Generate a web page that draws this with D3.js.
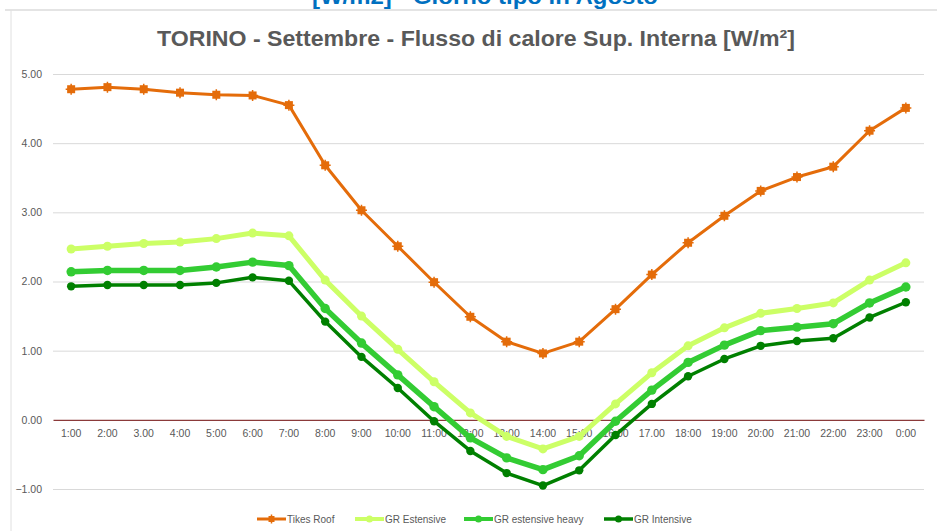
<!DOCTYPE html>
<html>
<head>
<meta charset="utf-8">
<script src="https://cdn.jsdelivr.net/npm/d3@7"></script>
<style>
  html, body { margin: 0; padding: 0; background: #ffffff; }
  svg { display: block; }
</style>
</head>
<body>
<svg id="chart" width="937" height="531"></svg>
<script>
// ---- data ----
const categories = ["1:00","2:00","3.00","4:00","5:00","6:00","7:00","8:00","9:00","10:00","11:00","12:00",
  "13:00","14:00","15:00","16:00","17.00","18:00","19:00","20:00","21:00","22:00","23:00","0:00"];
const tikesRoof = [4.78,4.81,4.78,4.73,4.70,4.69,4.55,3.68,3.03,2.51,1.99,1.49,
  1.13,0.96,1.13,1.60,2.10,2.56,2.95,3.31,3.51,3.66,4.18,4.51];
const grEstensive = [2.47,2.51,2.55,2.57,2.62,2.70,2.66,2.02,1.50,1.02,0.55,0.10,
  -0.24,-0.42,-0.24,0.23,0.68,1.07,1.33,1.54,1.61,1.69,2.02,2.27];
const grEstensiveHeavy = [2.14,2.16,2.16,2.16,2.21,2.28,2.23,1.61,1.11,0.65,0.19,-0.26,
  -0.55,-0.72,-0.52,-0.02,0.43,0.83,1.08,1.29,1.34,1.39,1.69,1.92];
const grIntensive = [1.93,1.95,1.95,1.95,1.98,2.06,2.01,1.42,0.91,0.46,-0.02,-0.45,
  -0.77,-0.95,-0.73,-0.22,0.23,0.63,0.88,1.07,1.14,1.18,1.48,1.70];
const yTicks = [-1,0,1,2,3,4,5];
const seriesNames = ["Tikes Roof","GR Estensive","GR estensive heavy","GR Intensive"];
const titleText = "TORINO - Settembre - Flusso di calore Sup. Interna [W/m\u00B2]";
const topText = "[W/m2] - Giorno tipo in Agosto";

// ---- styles ----
const series = [
  {name: seriesNames[0], values: tikesRoof, color: "#E46C0A", width: 3, marker: "star", r: 4},
  {name: seriesNames[1], values: grEstensive, color: "#CCFF66", width: 5, marker: "circle", r: 4.5},
  {name: seriesNames[2], values: grEstensiveHeavy, color: "#33CC33", width: 5.5, marker: "circle", r: 4.7},
  {name: seriesNames[3], values: grIntensive, color: "#008000", width: 3.5, marker: "circle", r: 4.2}
];
const FONT = "'Liberation Sans', Arial, sans-serif";
const NARROW = "'Liberation Sans Narrow', 'Arial Narrow', 'Liberation Sans', sans-serif";

const svg = d3.select("#chart");

// chart frame
svg.append("line").attr("x1", 5).attr("x2", 937).attr("y1", 10).attr("y2", 10)
  .attr("stroke", "#e4e4e4").attr("stroke-width", 2);
svg.append("line").attr("x1", 11).attr("x2", 11).attr("y1", 10).attr("y2", 531)
  .attr("stroke", "#e0e0e0").attr("stroke-width", 1);

// cut-off heading at top
svg.append("text").attr("x", 485).attr("y", 4).attr("text-anchor", "middle")
  .attr("font-family", FONT).attr("font-weight", "bold").attr("font-size", 22)
  .attr("fill", "#0070C0").attr("textLength", 346).attr("lengthAdjust", "spacingAndGlyphs")
  .text(topText);

// title
svg.append("text").attr("x", 476).attr("y", 46).attr("text-anchor", "middle")
  .attr("font-family", NARROW).attr("font-weight", "bold").attr("font-size", 22)
  .attr("fill", "#595959").attr("textLength", 638).attr("lengthAdjust", "spacingAndGlyphs")
  .text(titleText);

// scales
const x = d3.scaleBand().domain(categories).range([53, 924]).padding(0);
const cx = d => x(d) + x.bandwidth() / 2;
const y = d3.scaleLinear().domain([-1, 5]).range([489, 74]);

// gridlines + y labels
const yAxis = svg.append("g").attr("transform", "translate(53,0)")
  .call(d3.axisLeft(y).tickValues(yTicks).tickFormat(d3.format(".2f"))
    .tickSize(-(924 - 53)).tickPadding(11));
yAxis.select(".domain").remove();
yAxis.selectAll(".tick line").attr("stroke", "#d9d9d9").attr("stroke-width", 1);
yAxis.selectAll(".tick").filter(d => d === 0).select("line").remove();
yAxis.selectAll("text").attr("font-family", FONT).attr("font-size", 10.5).attr("fill", "#595959");

// x axis at zero
const xAxis = svg.append("g").attr("transform", `translate(0,${y(0)})`)
  .call(d3.axisBottom(x).tickSize(0).tickPadding(10).tickSizeOuter(0));
xAxis.select(".domain").attr("stroke", "#8B3A3A").attr("stroke-width", 1.3);
xAxis.selectAll("text").attr("font-family", FONT).attr("font-size", 10.5).attr("fill", "#595959");

// marker drawing helper
function drawMarker(g, s, px, py) {
  if (s.marker === "star") {
    g.append("rect").attr("x", px - s.r).attr("y", py - s.r)
      .attr("width", 2 * s.r).attr("height", 2 * s.r).attr("fill", s.color);
    g.append("path").attr("d", `M${px - s.r - 1.5},${py}H${px + s.r + 1.5}M${px},${py - s.r - 1.5}V${py + s.r + 1.5}`)
      .attr("stroke", s.color).attr("stroke-width", 1.5);
  } else {
    g.append("circle").attr("cx", px).attr("cy", py).attr("r", s.r).attr("fill", s.color);
  }
}

// lines
const line = d3.line().x((d, i) => cx(categories[i])).y(d => y(d));
series.forEach(s => {
  const g = svg.append("g");
  g.append("path").datum(s.values).attr("d", line).attr("fill", "none")
    .attr("stroke", s.color).attr("stroke-width", s.width).attr("stroke-linejoin", "round");
  s.values.forEach((v, i) => drawMarker(g, s, cx(categories[i]), y(v)));
});

// legend
const legendX = [257, 355, 464, 604];
const legendY = 519;
series.forEach((s, i) => {
  const g = svg.append("g");
  const x0 = legendX[i];
  g.append("line").attr("x1", x0).attr("x2", x0 + 29).attr("y1", legendY).attr("y2", legendY)
    .attr("stroke", s.color).attr("stroke-width", Math.min(s.width, 4));
  drawMarker(g, Object.assign({}, s, {r: s.marker === "star" ? 3 : 3.5}), x0 + 14.5, legendY);
  g.append("text").attr("x", x0 + 30).attr("y", legendY + 3.5)
    .attr("font-family", FONT).attr("font-size", 10).attr("fill", "#595959").text(s.name);
});
</script>
</body>
</html>
